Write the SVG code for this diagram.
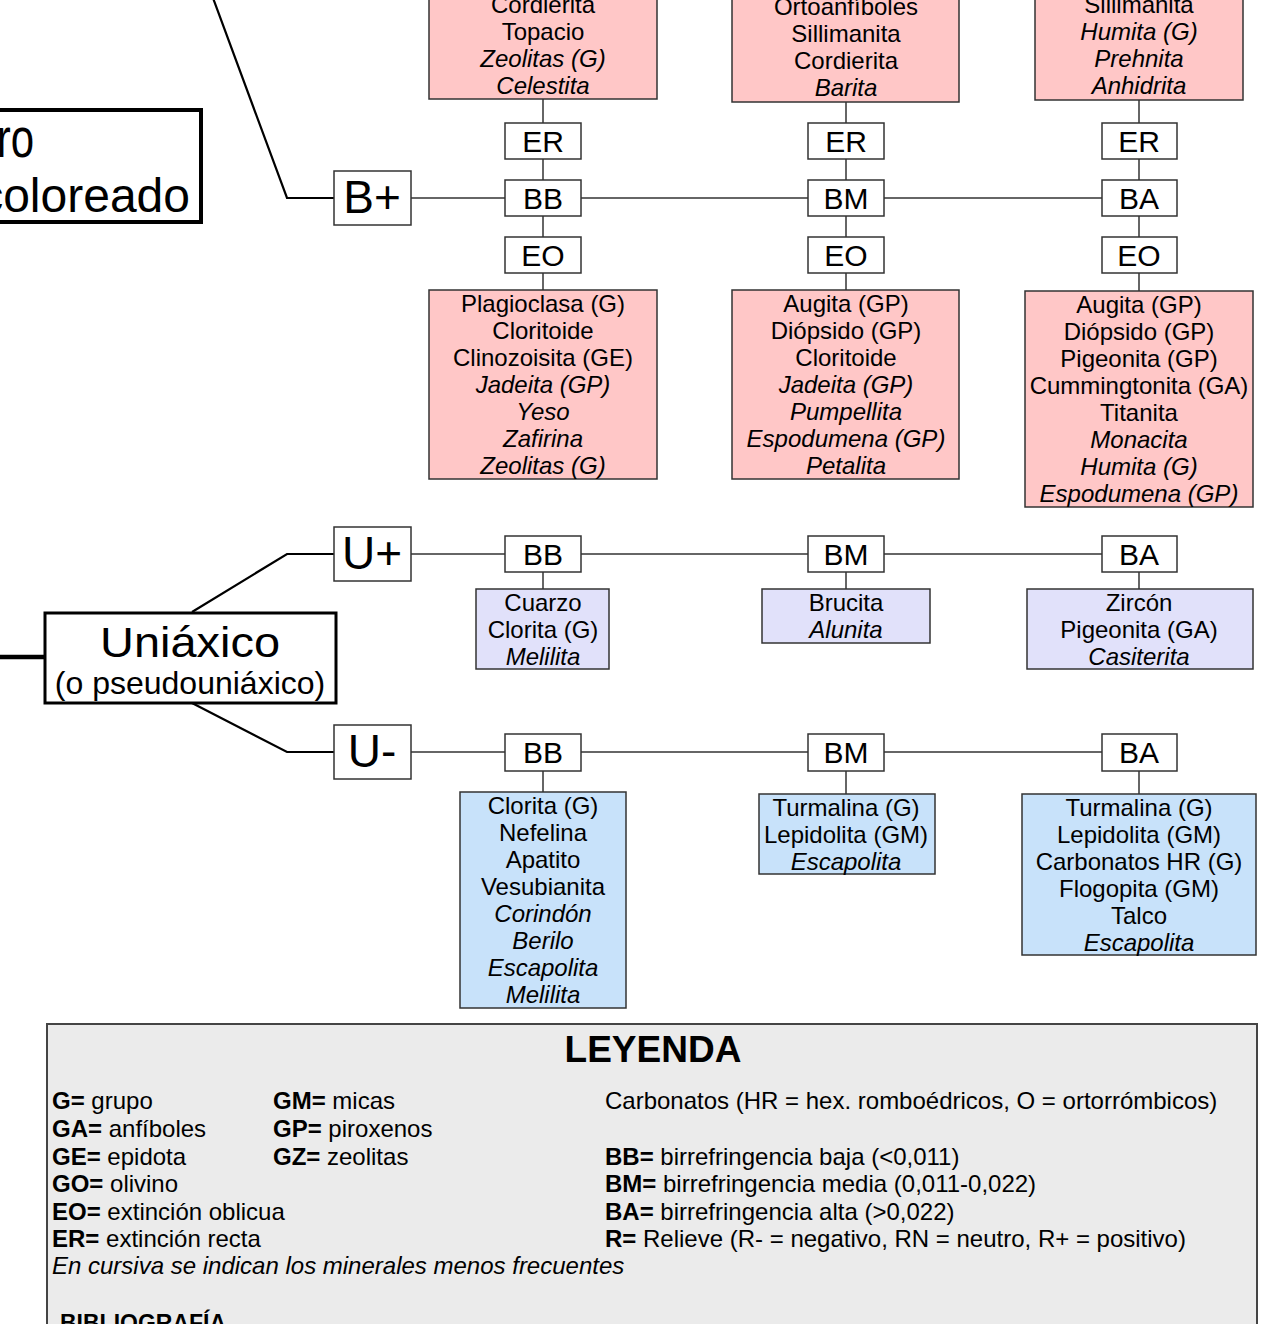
<svg xmlns="http://www.w3.org/2000/svg" width="1270" height="1324" viewBox="0 0 1270 1324">
<style>
text{font-family:"Liberation Sans",Arial,sans-serif;fill:#000}
.m{font-size:24px;text-anchor:middle}
.i{font-style:italic}
.lb{font-size:30px;text-anchor:middle}
.big{font-size:46px;text-anchor:middle}
.lab{fill:#fff;stroke:#333;stroke-width:1.5}
.pk{fill:#ffc7c7;stroke:#333;stroke-width:1.5}
.lv{fill:#e1e1fa;stroke:#333;stroke-width:1.5}
.bl{fill:#c8e2fa;stroke:#333;stroke-width:1.5}
.lg{font-size:24px}
.b{font-weight:bold}
.thin{stroke:#333;stroke-width:1.5;fill:none}
.thick{stroke:#000;stroke-width:2.2;fill:none}
</style>
<g id="connectors">
<polyline class="thick" points="213,-2 287,198 334,198"/>
<line class="thin" x1="411" y1="198" x2="505" y2="198"/>
<line class="thin" x1="581" y1="198" x2="808" y2="198"/>
<line class="thin" x1="884" y1="198" x2="1102" y2="198"/>
<line class="thin" x1="543" y1="99" x2="543" y2="290"/>
<line class="thin" x1="846" y1="102" x2="846" y2="290"/>
<line class="thin" x1="1139" y1="100" x2="1139" y2="291"/>
<polyline class="thick" points="192,612 287,554 334,554"/>
<polyline class="thick" points="192,703 287,752 334,752"/>
<line stroke="#000" stroke-width="4.5" x1="-2" y1="657" x2="45" y2="657"/>
<line class="thin" x1="411" y1="554" x2="505" y2="554"/>
<line class="thin" x1="581" y1="554" x2="808" y2="554"/>
<line class="thin" x1="884" y1="554" x2="1102" y2="554"/>
<line class="thin" x1="543" y1="572" x2="543" y2="589"/>
<line class="thin" x1="846" y1="572" x2="846" y2="589"/>
<line class="thin" x1="1139" y1="572" x2="1139" y2="589"/>
<line class="thin" x1="411" y1="752" x2="505" y2="752"/>
<line class="thin" x1="581" y1="752" x2="808" y2="752"/>
<line class="thin" x1="884" y1="752" x2="1102" y2="752"/>
<line class="thin" x1="543" y1="771" x2="543" y2="792"/>
<line class="thin" x1="846" y1="771" x2="846" y2="794"/>
<line class="thin" x1="1139" y1="771" x2="1139" y2="794"/>
</g>
<g id="biaxico">
<rect x="-10" y="110" width="211" height="112" fill="#fff" stroke="#000" stroke-width="4"/>
<text transform="translate(34,157) scale(1,1.3)" font-size="42" text-anchor="end">ro</text>
<text x="190" y="212" font-size="48" text-anchor="end">coloreado</text>
</g>
<g id="bplus"><rect class="lab" x="334" y="171" width="77" height="54"/><text class="big" x="372" y="213">B+</text></g>
<g id="er1"><rect class="lab" x="505" y="123" width="76" height="36"/><text class="lb" x="543" y="152">ER</text></g>
<g id="bb1"><rect class="lab" x="505" y="180" width="76" height="36"/><text class="lb" x="543" y="209">BB</text></g>
<g id="eo1"><rect class="lab" x="505" y="237" width="76" height="36"/><text class="lb" x="543" y="266">EO</text></g>
<g id="er2"><rect class="lab" x="808" y="123" width="76" height="36"/><text class="lb" x="846" y="152">ER</text></g>
<g id="bm1"><rect class="lab" x="808" y="180" width="76" height="36"/><text class="lb" x="846" y="209">BM</text></g>
<g id="eo2"><rect class="lab" x="808" y="237" width="76" height="36"/><text class="lb" x="846" y="266">EO</text></g>
<g id="er3"><rect class="lab" x="1102" y="123" width="75" height="36"/><text class="lb" x="1139" y="152">ER</text></g>
<g id="ba1"><rect class="lab" x="1102" y="180" width="75" height="36"/><text class="lb" x="1139" y="209">BA</text></g>
<g id="eo3"><rect class="lab" x="1102" y="237" width="75" height="36"/><text class="lb" x="1139" y="266">EO</text></g>
<g id="top1"><rect class="pk" x="429" y="-10" width="228" height="109"/>
<text class="m" x="543" y="13">Cordierita</text><text class="m" x="543" y="40">Topacio</text><text class="m i" x="543" y="67">Zeolitas (G)</text><text class="m i" x="543" y="94">Celestita</text></g>
<g id="top2"><rect class="pk" x="732" y="-10" width="227" height="112"/>
<text class="m" x="846" y="15">Ortoanfíboles</text><text class="m" x="846" y="42">Sillimanita</text><text class="m" x="846" y="69">Cordierita</text><text class="m i" x="846" y="96">Barita</text></g>
<g id="top3"><rect class="pk" x="1035" y="-10" width="208" height="110"/>
<text class="m" x="1139" y="13">Sillimanita</text><text class="m i" x="1139" y="40">Humita (G)</text><text class="m i" x="1139" y="67">Prehnita</text><text class="m i" x="1139" y="94">Anhidrita</text></g>
<g id="low1"><rect class="pk" x="429" y="290" width="228" height="189"/>
<text class="m" x="543" y="312">Plagioclasa (G)</text><text class="m" x="543" y="339">Cloritoide</text><text class="m" x="543" y="366">Clinozoisita (GE)</text><text class="m i" x="543" y="393">Jadeita (GP)</text><text class="m i" x="543" y="420">Yeso</text><text class="m i" x="543" y="447">Zafirina</text><text class="m i" x="543" y="474">Zeolitas (G)</text></g>
<g id="low2"><rect class="pk" x="732" y="290" width="227" height="189"/>
<text class="m" x="846" y="312">Augita (GP)</text><text class="m" x="846" y="339">Diópsido (GP)</text><text class="m" x="846" y="366">Cloritoide</text><text class="m i" x="846" y="393">Jadeita (GP)</text><text class="m i" x="846" y="420">Pumpellita</text><text class="m i" x="846" y="447">Espodumena (GP)</text><text class="m i" x="846" y="474">Petalita</text></g>
<g id="low3"><rect class="pk" x="1025" y="291" width="228" height="216"/>
<text class="m" x="1139" y="313">Augita (GP)</text><text class="m" x="1139" y="340">Diópsido (GP)</text><text class="m" x="1139" y="367">Pigeonita (GP)</text><text class="m" x="1139" y="394">Cummingtonita (GA)</text><text class="m" x="1139" y="421">Titanita</text><text class="m i" x="1139" y="448">Monacita</text><text class="m i" x="1139" y="475">Humita (G)</text><text class="m i" x="1139" y="502">Espodumena (GP)</text></g>
<g id="uniaxico">
<rect x="45" y="613" width="291" height="90" fill="#fff" stroke="#000" stroke-width="3"/>
<text x="190" y="657" font-size="42" text-anchor="middle" textLength="180" lengthAdjust="spacingAndGlyphs">Uniáxico</text>
<text x="190" y="694" font-size="32" text-anchor="middle">(o pseudouniáxico)</text>
</g>
<g id="uplus"><rect class="lab" x="334" y="527" width="77" height="54"/><text class="big" x="372" y="569">U+</text></g>
<g id="bb2"><rect class="lab" x="505" y="536" width="76" height="36"/><text class="lb" x="543" y="565">BB</text></g>
<g id="bm2"><rect class="lab" x="808" y="536" width="76" height="36"/><text class="lb" x="846" y="565">BM</text></g>
<g id="ba2"><rect class="lab" x="1102" y="536" width="75" height="36"/><text class="lb" x="1139" y="565">BA</text></g>
<g id="up1"><rect class="lv" x="476" y="589" width="133" height="80"/>
<text class="m" x="543" y="611">Cuarzo</text><text class="m" x="543" y="638">Clorita (G)</text><text class="m i" x="543" y="665">Melilita</text></g>
<g id="up2"><rect class="lv" x="762" y="589" width="168" height="54"/>
<text class="m" x="846" y="611">Brucita</text><text class="m i" x="846" y="638">Alunita</text></g>
<g id="up3"><rect class="lv" x="1027" y="589" width="226" height="80"/>
<text class="m" x="1139" y="611">Zircón</text><text class="m" x="1139" y="638">Pigeonita (GA)</text><text class="m i" x="1139" y="665">Casiterita</text></g>
<g id="uminus"><rect class="lab" x="334" y="725" width="77" height="54"/><text class="big" x="372" y="767">U-</text></g>
<g id="bb3"><rect class="lab" x="505" y="734" width="76" height="37"/><text class="lb" x="543" y="763">BB</text></g>
<g id="bm3"><rect class="lab" x="808" y="734" width="76" height="37"/><text class="lb" x="846" y="763">BM</text></g>
<g id="ba3"><rect class="lab" x="1102" y="734" width="75" height="37"/><text class="lb" x="1139" y="763">BA</text></g>
<g id="um1"><rect class="bl" x="460" y="792" width="166" height="216"/>
<text class="m" x="543" y="814">Clorita (G)</text><text class="m" x="543" y="841">Nefelina</text><text class="m" x="543" y="868">Apatito</text><text class="m" x="543" y="895">Vesubianita</text><text class="m i" x="543" y="922">Corindón</text><text class="m i" x="543" y="949">Berilo</text><text class="m i" x="543" y="976">Escapolita</text><text class="m i" x="543" y="1003">Melilita</text></g>
<g id="um2"><rect class="bl" x="759" y="794" width="176" height="80"/>
<text class="m" x="846" y="816">Turmalina (G)</text><text class="m" x="846" y="843">Lepidolita (GM)</text><text class="m i" x="846" y="870">Escapolita</text></g>
<g id="um3"><rect class="bl" x="1022" y="794" width="234" height="161"/>
<text class="m" x="1139" y="816">Turmalina (G)</text><text class="m" x="1139" y="843">Lepidolita (GM)</text><text class="m" x="1139" y="870">Carbonatos HR (G)</text><text class="m" x="1139" y="897">Flogopita (GM)</text><text class="m" x="1139" y="924">Talco</text><text class="m i" x="1139" y="951">Escapolita</text></g>
<g id="leyenda">
<rect x="47" y="1024" width="1210" height="320" fill="#ebebeb" stroke="#444" stroke-width="2"/>
<text x="653" y="1062" font-size="37" font-weight="bold" text-anchor="middle">LEYENDA</text>
<text class="lg" x="52" y="1109"><tspan class="b">G=</tspan> grupo</text>
<text class="lg" x="52" y="1137"><tspan class="b">GA=</tspan> anfíboles</text>
<text class="lg" x="52" y="1165"><tspan class="b">GE=</tspan> epidota</text>
<text class="lg" x="52" y="1192"><tspan class="b">GO=</tspan> olivino</text>
<text class="lg" x="52" y="1220"><tspan class="b">EO=</tspan> extinción oblicua</text>
<text class="lg" x="52" y="1247"><tspan class="b">ER=</tspan> extinción recta</text>
<text class="lg i" x="52" y="1274">En cursiva se indican los minerales menos frecuentes</text>
<text class="lg" x="273" y="1109"><tspan class="b">GM=</tspan> micas</text>
<text class="lg" x="273" y="1137"><tspan class="b">GP=</tspan> piroxenos</text>
<text class="lg" x="273" y="1165"><tspan class="b">GZ=</tspan> zeolitas</text>
<text class="lg" x="605" y="1109">Carbonatos (HR = hex. romboédricos, O = ortorrómbicos)</text>
<text class="lg" x="605" y="1165"><tspan class="b">BB=</tspan> birrefringencia baja (&lt;0,011)</text>
<text class="lg" x="605" y="1192"><tspan class="b">BM=</tspan> birrefringencia media (0,011-0,022)</text>
<text class="lg" x="605" y="1220"><tspan class="b">BA=</tspan> birrefringencia alta (&gt;0,022)</text>
<text class="lg" x="605" y="1247"><tspan class="b">R=</tspan> Relieve (R- = negativo, RN = neutro, R+ = positivo)</text>
<text x="60" y="1331" font-size="23" font-weight="bold">BIBLIOGRAFÍA</text>
</g>
</svg>
